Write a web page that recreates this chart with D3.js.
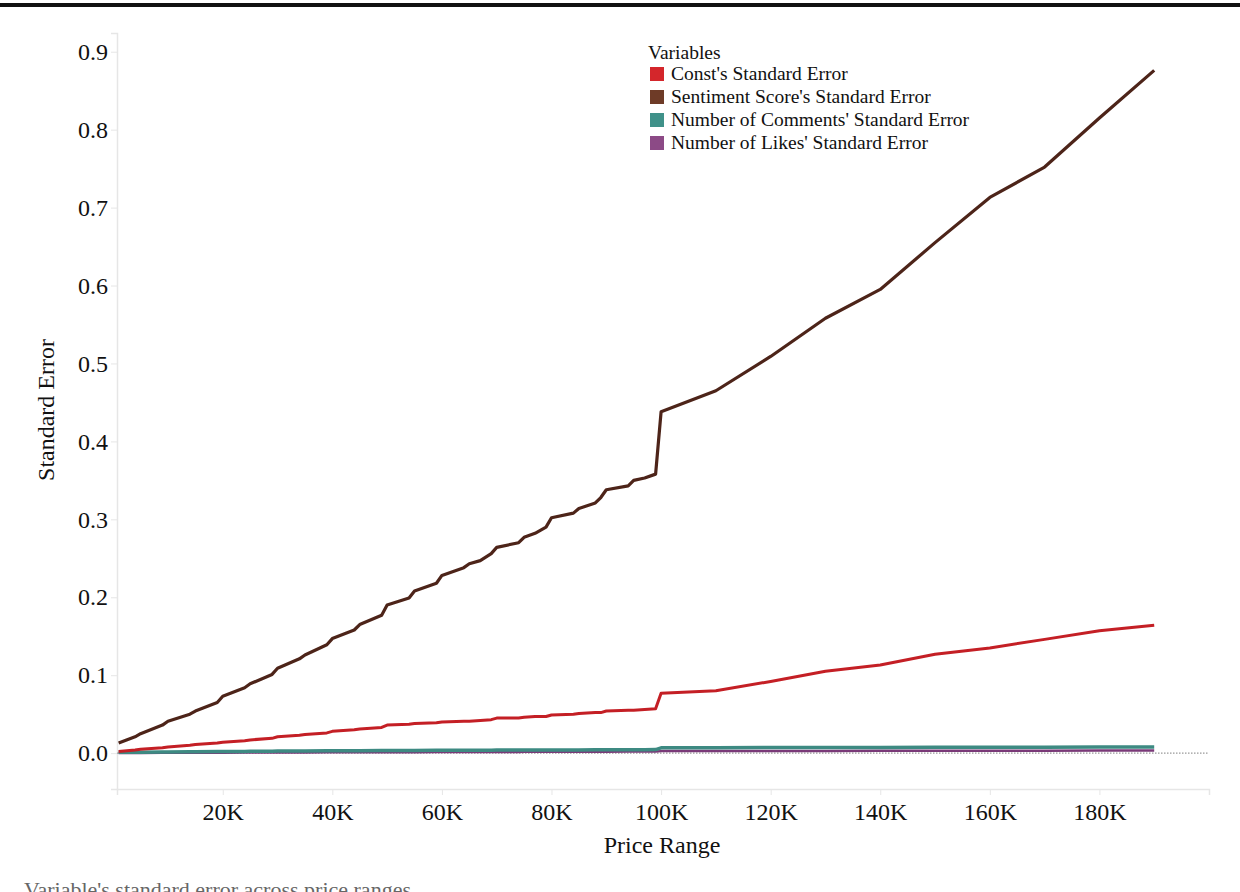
<!DOCTYPE html>
<html>
<head>
<meta charset="utf-8">
<script src="https://cdn.jsdelivr.net/npm/d3@7"></script>
<style>
  body { margin: 0; background: #fff; }
  svg { display: block; font-family: 'Liberation Serif', 'Times New Roman', serif; }
</style>
</head>
<body>
<div class="se_chart"></div>
<script>
// price range (thousands)
const prices = [1, 4, 5, 9, 10, 14, 15, 19, 20, 24, 25, 29, 30, 34, 35, 39, 40, 44, 45, 49, 50,
  54, 55, 59, 60, 64, 65, 67, 69, 70, 74, 75, 77, 79, 80, 84, 85, 88, 89, 90, 94, 95, 97, 99, 100,
  110, 120, 130, 140, 150, 160, 170, 180, 190]

const constSE = [0.002, 0.004, 0.005, 0.007, 0.008, 0.010, 0.011, 0.013, 0.014, 0.016, 0.017, 0.019, 0.021,
  0.023, 0.024, 0.026, 0.028, 0.030, 0.031, 0.033, 0.036, 0.037, 0.038, 0.039, 0.040, 0.041, 0.041, 0.042,
  0.043, 0.045, 0.045, 0.046, 0.047, 0.047, 0.049, 0.050, 0.051, 0.052, 0.052, 0.054, 0.055, 0.055, 0.056,
  0.057, 0.077, 0.080, 0.092, 0.105, 0.113, 0.127, 0.135, 0.146, 0.157, 0.164]

const sentimentSE = [0.013, 0.021, 0.025, 0.036, 0.041, 0.050, 0.054, 0.065, 0.073, 0.084, 0.089, 0.101, 0.109,
  0.121, 0.126, 0.139, 0.147, 0.158, 0.165, 0.177, 0.190, 0.199, 0.208, 0.218, 0.228, 0.238, 0.243, 0.247,
  0.256, 0.264, 0.270, 0.277, 0.282, 0.290, 0.302, 0.308, 0.314, 0.321, 0.328, 0.338, 0.343, 0.350, 0.353,
  0.358, 0.438, 0.465, 0.509, 0.558, 0.595, 0.655, 0.713, 0.752, 0.815, 0.876]

const commentsSE = [0.0010, 0.0010, 0.0012, 0.0015, 0.0016, 0.0018, 0.0019, 0.0020, 0.0020,
  0.0022, 0.0023, 0.0025, 0.0026, 0.0027, 0.0028, 0.0030, 0.0030,
  0.0031, 0.0032, 0.0033, 0.0034, 0.0035, 0.0035, 0.0036, 0.0036,
  0.0037, 0.0037, 0.0038, 0.0038, 0.0039, 0.0039, 0.0040, 0.0040, 0.0041, 0.0041,
  0.0042, 0.0042, 0.0043, 0.0043, 0.0044, 0.0044, 0.0045, 0.0045, 0.0046, 0.0068,
  0.0070, 0.0072, 0.0073, 0.0074, 0.0075, 0.0076, 0.0077, 0.0078, 0.0080]

const likesSE = [0.0002, 0.0003, 0.0003, 0.0004, 0.0004, 0.0005, 0.0005, 0.0006, 0.0006,
  0.0007, 0.0007, 0.0008, 0.0008, 0.0009, 0.0009, 0.0010, 0.0010,
  0.0011, 0.0011, 0.0012, 0.0012, 0.0013, 0.0013, 0.0014, 0.0014,
  0.0015, 0.0015, 0.0015, 0.0016, 0.0016, 0.0016, 0.0017, 0.0017, 0.0017, 0.0018,
  0.0018, 0.0018, 0.0019, 0.0019, 0.0019, 0.0020, 0.0020, 0.0020, 0.0020, 0.0026,
  0.0027, 0.0028, 0.0029, 0.0030, 0.0030, 0.0031, 0.0032, 0.0033, 0.0034]

const seriesNames = ["Const's Standard Error", "Sentiment Score's Standard Error",
  "Number of Comments' Standard Error", "Number of Likes' Standard Error"]
const legendColors = ['#d4262b', '#6e3b27', '#3f9189', '#8c4a86']
const lineColors = ['#c41f25', '#4d2419', '#3d8a82', '#7a3a78']
const xTicks = [20, 40, 60, 80, 100, 120, 140, 160, 180]
const yTicks = [0, 0.1, 0.2, 0.3, 0.4, 0.5, 0.6, 0.7, 0.8, 0.9]

function drawChart () {
  const width = 1240
  const height = 892
  const svg = d3.select('.se_chart').append('svg')
    .attr('width', width)
    .attr('height', height)

  // top rule
  svg.append('rect').attr('x', 0).attr('y', 3).attr('width', width).attr('height', 4).attr('fill', '#111')

  const x = d3.scaleLinear().domain([0.7, 200]).range([117, 1209])
  const y = d3.scaleLinear().domain([-0.046, 0.924]).range([789, 33])

  // y axis
  const yAxis = svg.append('g')
    .attr('transform', 'translate(117,0)')
    .call(d3.axisLeft(y).tickValues(yTicks).tickFormat(d3.format('.1f')).tickSize(6).tickPadding(3))
  yAxis.select('.domain').attr('stroke', '#e6e6e6').attr('stroke-width', 1.5)
  yAxis.selectAll('.tick line').attr('stroke', '#e6e6e6')
  yAxis.selectAll('.tick text').attr('font-size', 24).attr('fill', '#111')
    .attr('font-family', "'Liberation Serif', serif")

  // x axis
  const xAxis = svg.append('g')
    .attr('transform', 'translate(0,789)')
    .call(d3.axisBottom(x).tickValues(xTicks).tickFormat(d => d + 'K').tickSize(6).tickPadding(8))
  xAxis.select('.domain').attr('stroke', '#e6e6e6').attr('stroke-width', 1.5)
  xAxis.selectAll('.tick line').attr('stroke', '#e6e6e6')
  xAxis.selectAll('.tick text').attr('font-size', 24).attr('fill', '#111')
    .attr('font-family', "'Liberation Serif', serif")

  // zero reference line
  svg.append('line')
    .attr('x1', 117).attr('x2', 1208)
    .attr('y1', y(0)).attr('y2', y(0))
    .attr('stroke', '#999').attr('stroke-width', 1.2).attr('stroke-dasharray', '1.5,1.5')

  const line = d3.line()
    .x((d) => x(d.p))
    .y((d) => y(d.v))

  const allSeries = [constSE, sentimentSE, commentsSE, likesSE]
  const widths = [3, 3.2, 3.5, 2.5]
  const order = [3, 2, 0, 1]
  order.forEach((i) => {
    const data = prices.map((p, j) => ({ p: p, v: allSeries[i][j] }))
    svg.append('path')
      .datum(data)
      .attr('d', line)
      .attr('fill', 'none')
      .attr('stroke', lineColors[i])
      .attr('stroke-width', widths[i])
      .attr('stroke-linejoin', 'round')
  })

  // axis titles
  svg.append('text')
    .attr('x', 662).attr('y', 853)
    .attr('text-anchor', 'middle')
    .attr('font-size', 24)
    .attr('fill', '#111')
    .text('Price Range')

  svg.append('text')
    .attr('transform', 'translate(54,410) rotate(-90)')
    .attr('text-anchor', 'middle')
    .attr('font-size', 24)
    .attr('fill', '#111')
    .text('Standard Error')

  // legend
  const legend = svg.append('g').attr('transform', 'translate(648,0)')
  legend.append('text')
    .attr('x', 0).attr('y', 59)
    .attr('font-size', 19.5)
    .attr('fill', '#111')
    .text('Variables')
  seriesNames.forEach((name, i) => {
    const cy = 74 + i * 23
    legend.append('rect')
      .attr('x', 2).attr('y', cy - 7)
      .attr('width', 14).attr('height', 14)
      .attr('fill', legendColors[i])
    legend.append('text')
      .attr('x', 23).attr('y', cy + 6)
      .attr('font-size', 19.5)
      .attr('fill', '#111')
      .text(name)
  })

  // caption, cut at the bottom edge as in the source page
  svg.append('text')
    .attr('x', 24).attr('y', 897)
    .attr('font-size', 22)
    .attr('fill', '#666')
    .text("Variable's standard error across price ranges")
}

drawChart()
</script>
</body>
</html>
